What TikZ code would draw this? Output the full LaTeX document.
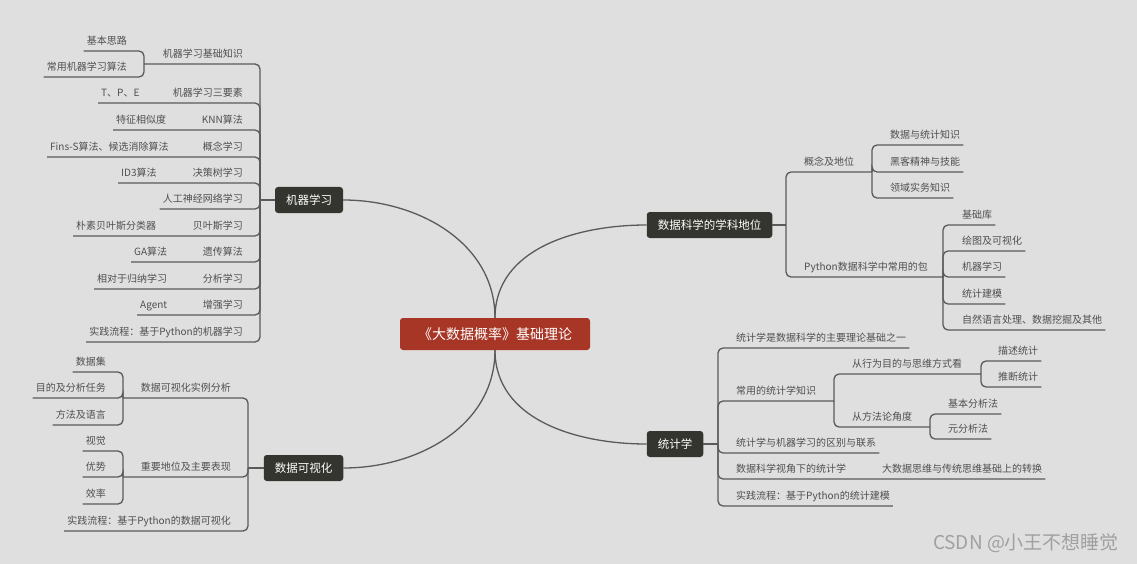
\documentclass[tikz,border=0pt]{standalone}
\usepackage{fontspec}
\setmainfont{Noto Sans CJK SC}
\definecolor{bgcol}{HTML}{DFDFDF}
\definecolor{rootred}{HTML}{A83626}
\definecolor{topicdark}{HTML}{35352F}
\definecolor{linegray}{HTML}{5A5A5A}
\definecolor{textgray}{HTML}{4F4F4F}
\definecolor{markgray}{HTML}{A0A0A0}

\begin{document}
\begin{tikzpicture}[x=1pt, y=1pt,
  root/.style={fill=rootred, text=white, rounded corners=3pt, minimum width=190pt, minimum height=32pt, font=\fontsize{14}{16}\selectfont},
  topic/.style={fill=topicdark, text=white, rounded corners=3pt, inner xsep=11pt, minimum height=26pt, font=\fontsize{11.5}{13}\selectfont},
  leaf/.style={text=textgray, inner xsep=3pt, inner ysep=4pt, text height=8pt, text depth=2pt, font=\fontsize{10}{12}\selectfont},
  link/.style={draw=linegray, line width=1.3pt, rounded corners=5pt},
  curve/.style={draw=linegray, line width=1.3pt}]
\fill[bgcol] (0,0) rectangle (1137,-564);
\useasboundingbox (0,0) rectangle (1137,-564);

\node[root] (root) at (495,-334) {《大数据概率》基础理论};

\node[topic] (ml) at (309,-200) {机器学习};
\node[topic] (dv) at (303.5,-468) {数据可视化};
\node[topic] (ds) at (709.5,-225) {数据科学的学科地位};
\node[topic] (st) at (675,-444) {统计学};

\draw[curve] (ml.east) to[out=0, in=90] (root.north);
\draw[curve] (ds.west) to[out=180, in=90] (root.north);
\draw[curve] (dv.east) to[out=0, in=-90] (root.south);
\draw[curve] (st.west) to[out=180, in=-90] (root.south);

\coordinate (mlj) at (260,-200);
\node[leaf, anchor=south east] (mlBase) at (246,-64) {机器学习基础知识};
\coordinate (mlBasej) at (144,-64);
\node[leaf, anchor=south east] (mlIdea) at (130,-51) {基本思路};
\node[leaf, anchor=south east] (mlAlgo) at (130,-77) {常用机器学习算法};
\node[leaf, anchor=south east] (mlThree) at (246,-103) {机器学习三要素};
\node[leaf, anchor=south west] (mlTPE) at (98,-103) {T、P、E};
\node[leaf, anchor=south east] (mlKnn) at (246,-130) {KNN算法};
\node[leaf, anchor=south west] (mlSim) at (113,-130) {特征相似度};
\node[leaf, anchor=south east] (mlConcept) at (246,-157) {概念学习};
\node[leaf, anchor=south west] (mlFins) at (47,-157) {Fins-S算法、候选消除算法};
\node[leaf, anchor=south east] (mlTree) at (246,-183) {决策树学习};
\node[leaf, anchor=south west] (mlId3) at (118,-183) {ID3算法};
\node[leaf, anchor=south east] (mlAnn) at (246,-209) {人工神经网络学习};
\node[leaf, anchor=south east] (mlBayes) at (246,-236) {贝叶斯学习};
\node[leaf, anchor=south west] (mlNaive) at (73,-236) {朴素贝叶斯分类器};
\node[leaf, anchor=south east] (mlGen) at (246,-262) {遗传算法};
\node[leaf, anchor=south west] (mlGa) at (131,-262) {GA算法};
\node[leaf, anchor=south east] (mlAna) at (246,-289) {分析学习};
\node[leaf, anchor=south west] (mlInd) at (94,-289) {相对于归纳学习};
\node[leaf, anchor=south east] (mlRein) at (246,-315) {增强学习};
\node[leaf, anchor=south west] (mlAgent) at (137,-315) {Agent};
\node[leaf, anchor=south east] (mlPy) at (246,-342) {实践流程：基于Python的机器学习};

\draw[link] (ml.west) -- (mlj);
\draw[link] (mlj) |- (mlBasej);
\draw[link] (mlBasej) |- (mlIdea.south west);
\draw[link] (mlBasej) |- (mlAlgo.south west);
\draw[link] (mlj) |- (mlTPE.south west);
\draw[link] (mlj) |- (mlSim.south west);
\draw[link] (mlj) |- (mlFins.south west);
\draw[link] (mlj) |- (mlId3.south west);
\draw[link] (mlj) |- (mlAnn.south west);
\draw[link] (mlj) |- (mlNaive.south west);
\draw[link] (mlj) |- (mlGa.south west);
\draw[link] (mlj) |- (mlInd.south west);
\draw[link] (mlj) |- (mlAgent.south west);
\draw[link] (mlj) |- (mlPy.south west);

\coordinate (dvj) at (248,-468);
\node[leaf, anchor=south east] (dvCase) at (234,-398) {数据可视化实例分析};
\coordinate (dvCasej) at (123,-398);
\node[leaf, anchor=south east] (dvSet) at (109,-372) {数据集};
\node[leaf, anchor=south east] (dvTask) at (109,-398) {目的及分析任务};
\node[leaf, anchor=south east] (dvLang) at (109,-425) {方法及语言};
\node[leaf, anchor=south east] (dvRole) at (234,-477) {重要地位及主要表现};
\coordinate (dvRolej) at (123,-477);
\node[leaf, anchor=south east] (dvSight) at (109,-451) {视觉};
\node[leaf, anchor=south east] (dvEdge) at (109,-477) {优势};
\node[leaf, anchor=south east] (dvRate) at (109,-504) {效率};
\node[leaf, anchor=south east] (dvPy) at (234,-531) {实践流程：基于Python的数据可视化};

\draw[link] (dv.west) -- (dvj);
\draw[link] (dvj) |- (dvCasej);
\draw[link] (dvCasej) |- (dvSet.south west);
\draw[link] (dvCasej) |- (dvTask.south west);
\draw[link] (dvCasej) |- (dvLang.south west);
\draw[link] (dvj) |- (dvRolej);
\draw[link] (dvRolej) |- (dvSight.south west);
\draw[link] (dvRolej) |- (dvEdge.south west);
\draw[link] (dvRolej) |- (dvRate.south west);
\draw[link] (dvj) |- (dvPy.south west);

\coordinate (dsj) at (786,-225);
\node[leaf, anchor=south west] (dsPos) at (801,-172) {概念及地位};
\coordinate (dsPosj) at (872,-172);
\node[leaf, anchor=south west] (dsStat) at (887,-145) {数据与统计知识};
\node[leaf, anchor=south west] (dsHack) at (887,-172) {黑客精神与技能};
\node[leaf, anchor=south west] (dsField) at (887,-198) {领域实务知识};
\node[leaf, anchor=south west] (dsPkg) at (801,-277) {Python数据科学中常用的包};
\coordinate (dsPkgj) at (943,-277);
\node[leaf, anchor=south west] (dsLib) at (959,-225) {基础库};
\node[leaf, anchor=south west] (dsPlot) at (959,-251) {绘图及可视化};
\node[leaf, anchor=south west] (dsMl) at (959,-277) {机器学习};
\node[leaf, anchor=south west] (dsModel) at (959,-304) {统计建模};
\node[leaf, anchor=south west] (dsNlp) at (959,-330) {自然语言处理、数据挖掘及其他};

\draw[link] (ds.east) -- (dsj);
\draw[link] (dsj) |- (dsPosj);
\draw[link] (dsPosj) |- (dsStat.south east);
\draw[link] (dsPosj) |- (dsHack.south east);
\draw[link] (dsPosj) |- (dsField.south east);
\draw[link] (dsj) |- (dsPkgj);
\draw[link] (dsPkgj) |- (dsLib.south east);
\draw[link] (dsPkgj) |- (dsPlot.south east);
\draw[link] (dsPkgj) |- (dsMl.south east);
\draw[link] (dsPkgj) |- (dsModel.south east);
\draw[link] (dsPkgj) |- (dsNlp.south east);

\coordinate (stj) at (718,-444);
\node[leaf, anchor=south west] (stBase) at (733,-348) {统计学是数据科学的主要理论基础之一};
\node[leaf, anchor=south west] (stKnow) at (733,-401) {常用的统计学知识};
\coordinate (stKnowj) at (834,-401);
\node[leaf, anchor=south west] (stAim) at (849,-374) {从行为目的与思维方式看};
\coordinate (stAimj) at (981,-374);
\node[leaf, anchor=south west] (stDesc) at (995,-361) {描述统计};
\node[leaf, anchor=south west] (stInfer) at (995,-387) {推断统计};
\node[leaf, anchor=south west] (stMeth) at (849,-427) {从方法论角度};
\coordinate (stMethj) at (930,-427);
\node[leaf, anchor=south west] (stBasic) at (945,-414) {基本分析法};
\node[leaf, anchor=south west] (stMeta) at (945,-439) {元分析法};
\node[leaf, anchor=south west] (stDiff) at (733,-453) {统计学与机器学习的区别与联系};
\node[leaf, anchor=south west] (stView) at (733,-479) {数据科学视角下的统计学};
\node[leaf, anchor=south west] (stShift) at (879,-479) {大数据思维与传统思维基础上的转换};
\node[leaf, anchor=south west] (stPy) at (733,-506) {实践流程：基于Python的统计建模};

\draw[link] (st.east) -- (stj);
\draw[link] (stj) |- (stBase.south east);
\draw[link] (stj) |- (stKnowj);
\draw[link] (stKnowj) |- (stAimj);
\draw[link] (stAimj) |- (stDesc.south east);
\draw[link] (stAimj) |- (stInfer.south east);
\draw[link] (stKnowj) |- (stMethj);
\draw[link] (stMethj) |- (stBasic.south east);
\draw[link] (stMethj) |- (stMeta.south east);
\draw[link] (stj) |- (stDiff.south east);
\draw[link] (stj) |- (stShift.south east);
\draw[link] (stj) |- (stPy.south east);

\node[text=markgray, font=\fontsize{19}{22}\selectfont] (mark) at (1026,-543) {CSDN @小王不想睡觉};
\end{tikzpicture}
\end{document}
